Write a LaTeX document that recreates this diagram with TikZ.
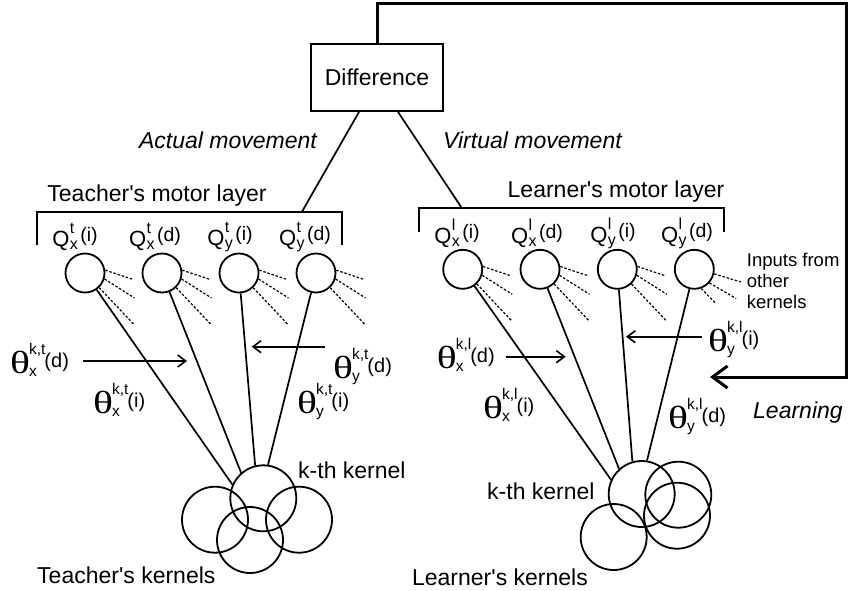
\documentclass[tikz,border=0pt]{standalone}
\usepackage{fontspec}
\setmainfont{Liberation Sans}
\newfontfamily\thfont{Liberation Serif}
\usepackage{graphicx}
\usetikzlibrary{arrows.meta}
\newbox\ssboxa \newbox\ssboxb \newdimen\sswd
\newcommand\supsub[4]{%
 \setbox\ssboxa\hbox{\fontsize{#4}{#4}\selectfont #1}%
 \setbox\ssboxb\hbox{\fontsize{#4}{#4}\selectfont #2}%
 \sswd=\wd\ssboxa\relax
 \ifdim\wd\ssboxb>\sswd \sswd=\wd\ssboxb\relax\fi
 \rlap{\raisebox{#3}{\copy\ssboxa}}\rlap{\raisebox{-3pt}{\copy\ssboxb}}\kern\sswd}
\newcommand\Qlab[3]{{\fontsize{22}{22}\selectfont Q}\kern0.3pt\supsub{#1}{#2}{13pt}{16}\kern2.5pt\raisebox{5pt}{\fontsize{19.5}{19.5}\selectfont #3}}
\newcommand\Tlab[3]{{\thfont\fontsize{32}{32}\selectfont\scalebox{1.3}[1]{θ}}\kern-1pt\supsub{#1}{#2}{19pt}{15.5}\kern-1pt\raisebox{6pt}{\fontsize{20}{20}\selectfont #3}}
\newcommand\ap{\textquotesingle}
\begin{document}
\begin{tikzpicture}[x=1pt,y=-1pt,
 every node/.style={inner sep=0pt, font=\fontsize{23}{26}\selectfont},
 ln/.style={line width=1.7pt},
 neuron/.style={circle,draw,line width=1.8pt,minimum size=39pt,inner sep=0pt},
 kern/.style={circle,draw,line width=1.8pt,minimum size=66pt,inner sep=0pt},
 dsh/.style={line width=1.2pt,dash pattern=on 2.5pt off 1.8pt},
 thinarrow/.style={line width=1.6pt,-{Straight Barb[length=8pt,width=12pt]}},
 itl/.style={font=\itshape\fontsize{23}{26}\selectfont}]
\useasboundingbox (0,0) rectangle (848,590);
% Difference box and feedback
\node[draw,line width=1.8pt,minimum width=132pt,minimum height=67pt] (diff) at (377,77.5) {Difference};
\coordinate (fbtop) at (377,3);
\coordinate (fbcorner) at (846,3);
\coordinate (fbdown) at (846,377);
\coordinate (fbtip) at (710,377);
\draw[line width=3pt,line join=miter,-{Straight Barb[length=15pt,width=22pt]}] (diff.north) -- (fbtop) -- (fbcorner) -- (fbdown) -- (fbtip);
\node[itl,anchor=east] (act) at (317,140) {Actual movement};
\node[itl,anchor=west] (virt) at (443,140) {Virtual movement};
% brackets
\draw[ln] (37,245) -- (37,211.7) -- (342,211.7) -- (342,245);
\draw[ln] (419,231.7) -- (419,208.3) -- (724,208.3) -- (724,231.7);
\coordinate (tbj) at (302,211.7);
\coordinate (lbj) at (462,208.3);
\draw[ln] ([xshift=-18pt]diff.south) -- (tbj);
\draw[ln] ([xshift=21pt]diff.south) -- (lbj);
\node (tml) at (157,196) {Teacher\ap s motor layer};
\node (lml) at (616,192) {Learner\ap s motor layer};
% Q labels
\node (tql1) at (75,237) {\Qlab{t}{x}{(i)}};
\node (tql2) at (155,237) {\Qlab{t}{x}{(d)}};
\node (tql3) at (230,237) {\Qlab{t}{y}{(i)}};
\node (tql4) at (305,237) {\Qlab{t}{y}{(d)}};
\node (lql1) at (457,233) {\Qlab{l}{x}{(i)}};
\node (lql2) at (537,233) {\Qlab{l}{x}{(d)}};
\node (lql3) at (613,233) {\Qlab{l}{y}{(i)}};
\node (lql4) at (687,233) {\Qlab{l}{y}{(d)}};
% neurons
\node[neuron] (tq1) at (85,273) {};
\node[neuron] (tq2) at (162,273) {};
\node[neuron] (tq3) at (239,273) {};
\node[neuron] (tq4) at (316,273) {};
\node[neuron] (lq1) at (462.7,269.3) {};
\node[neuron] (lq2) at (540,269.3) {};
\node[neuron] (lq3) at (617.3,269.3) {};
\node[neuron] (lq4) at (694.3,269.3) {};
\foreach \n in {tq1,tq2,tq3,tq4,lq1,lq2,lq3}{
  \draw[dsh] (\n.8) -- ++(27,9);
  \draw[dsh] (\n.-17) -- ++(30,19);
  \draw[dsh] (\n.-46) -- ++(35,37);
}
\draw[dsh] (lq4.-13) -- ++(26.7,8);
\draw[dsh] (lq4.-42) -- ++(26.7,15.6);
\draw[dsh] (lq4.-70) -- ++(14.3,14.7);
\node[font=\fontsize{18.5}{21}\selectfont,align=left,anchor=west] (inp) at (746.7,281) {Inputs from\\other\\kernels};
% kernels
\node[kern] (tk) at (263.3,498.3) {};
\node[kern] (tk2) at (215,519.7) {};
\node[kern] (tk3) at (299,519.7) {};
\node[kern] (tk4) at (250,540) {};
\node[kern] (lk) at (641.7,494) {};
\node[kern] (lk2) at (678.3,494.7) {};
\node[kern] (lk3) at (677,515.7) {};
\node[kern] (lk4) at (613.7,537) {};
% weights
\draw[ln] (tq1) -- (tk.156);
\draw[ln] (tq2) -- (tk.131);
\draw[ln] (tq3) -- (tk.104);
\draw[ln] (tq4) -- (tk.82);
\draw[ln] (lq1) -- (lk.155);
\draw[ln] (lq2) -- (lk.132);
\draw[ln] (lq3) -- (lk.106);
\draw[ln] (lq4) -- (lk.81);
\node[anchor=west] (tkl) at (298,470) {k-th kernel};
\node[anchor=west] (lkl) at (487,491.7) {k-th kernel};
\node[anchor=west] (tks) at (37,575) {Teacher\ap s kernels};
\node[anchor=east] (lks) at (588,577) {Learner\ap s kernels};
% theta labels
\node[anchor=base west] (txd) at (10,373.3) {\Tlab{k,t}{x}{(d)}};
\node[anchor=base west] (tyd) at (333,378.3) {\Tlab{k,t}{y}{(d)}};
\node[anchor=base west] (txi) at (93,413) {\Tlab{k,t}{x}{(i)}};
\node[anchor=base west] (tyi) at (297,413) {\Tlab{k,t}{y}{(i)}};
\node[anchor=base west] (lxd) at (436.7,368) {\Tlab{k,l}{x}{(d)}};
\node[anchor=base west] (lyi) at (708,351.7) {\Tlab{k,l}{y}{(i)}};
\node[anchor=base west] (lxi) at (483,418.3) {\Tlab{k,l}{x}{(i)}};
\node[anchor=base west] (lyd) at (668,428.3) {\Tlab{k,l}{y}{(d)}};
% arrows
\coordinate (a1s) at (83,361); \coordinate (a1e) at (187,361);
\coordinate (a2s) at (325,346.7); \coordinate (a2e) at (251.7,346.7);
\coordinate (a3s) at (506,356.7); \coordinate (a3e) at (565.7,356.7);
\coordinate (a4s) at (701.7,336.7); \coordinate (a4e) at (626,336.7);
\draw[thinarrow] (a1s) -- (a1e);
\draw[thinarrow] (a2s) -- (a2e);
\draw[thinarrow] (a3s) -- (a3e);
\draw[thinarrow] (a4s) -- (a4e);
\node[itl,anchor=west] (learn) at (753,413) {Learning};
\end{tikzpicture}
\end{document}
